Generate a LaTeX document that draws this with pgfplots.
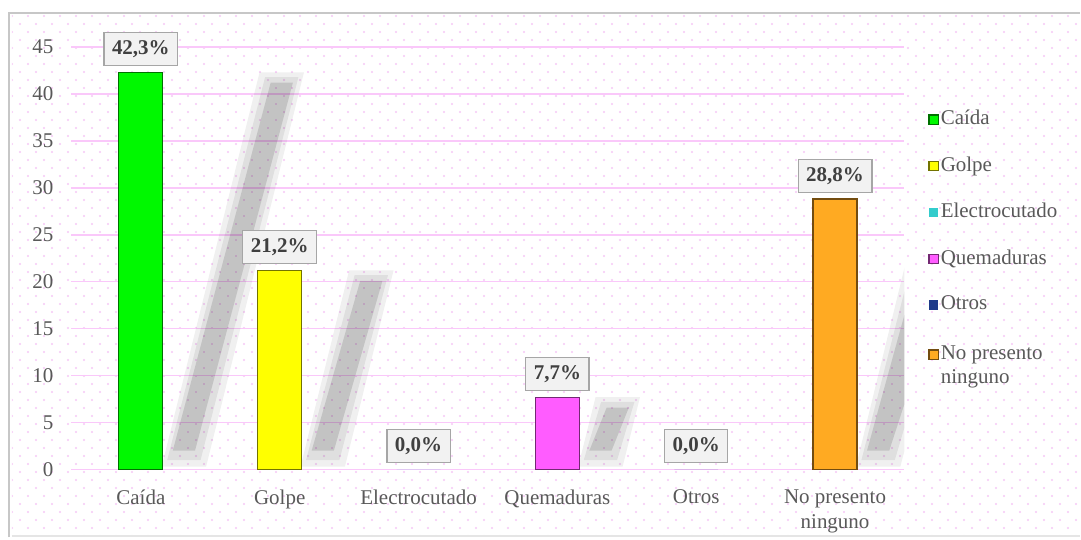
\documentclass[border=0pt]{standalone}
\usepackage{fontspec}
\setmainfont{Liberation Serif}
\usepackage{pgfplots}
\pgfplotsset{compat=1.18}
\usetikzlibrary{patterns.meta}
\definecolor{txt}{HTML}{595959}
\definecolor{lbltxt}{HTML}{404040}
\definecolor{gridpink}{RGB}{250,200,250}
\definecolor{dotpink}{RGB}{246,200,246}
\definecolor{cGreen}{HTML}{00F800}
\definecolor{cYellow}{HTML}{FFFF00}
\definecolor{cCyan}{HTML}{33CCCC}
\definecolor{cMagenta}{HTML}{FF5CFF}
\definecolor{cNavy}{HTML}{1F3A8A}
\definecolor{cOrange}{HTML}{FFAA22}
\tikzdeclarepattern{
  name=pinkdots, type=uncolored, tile size={(8pt,8pt)},
  bounding box={(0pt,0pt) and (8pt,8pt)},
  code={\fill (2pt,2pt) circle (0.55pt); \fill (6pt,6pt) circle (0.55pt);}
}
\newcommand{\fs}{\fontsize{10.5}{12.6}\selectfont}
\pgfplotsset{
  mybar/.style={ybar, bar width=22pt, bar shift=0pt, fill=#1, draw=#1!45!black, line width=0.6pt,
    nodes near coords={\pgfmathprintnumber[fixed,fixed zerofill,precision=1,use comma]{\pgfplotspointmeta}\%},
    every node near coord/.append style={font=\fs\bfseries, text=lbltxt, draw=black!35, fill=black!5, line width=0.6pt, inner xsep=4pt, inner ysep=4pt, anchor=south, yshift=3pt}},
  zerobar/.style={mybar=#1, draw=none},
  shadow/.style={forget plot, draw=none, fill=black, fill opacity=#1},
}
\begin{document}
\begin{tikzpicture}[x=1pt,y=1pt]
\path (0,0) rectangle (540.5,269);
\fill[white] (4,0) rectangle (540.5,262.5);
\fill[pattern=pinkdots, pattern color=dotpink] (6,1) rectangle (540.5,261.5);
\draw[black!22, line width=1.2pt] (4.5,0) -- (4.5,262.5) -- (540.5,262.5);
\draw[black!10, line width=1pt] (6,0.5) -- (540.5,0.5);
\begin{axis}[
  at={(35.75pt,34pt)}, anchor=south west,
  scale only axis, width=417pt, height=211.5pt,
  xmin=-0.5, xmax=5.5, ymin=0, ymax=45,
  clip=false,
  axis line style={draw=none},
  tick style={draw=none},
  ytick={0,5,...,45},
  ymajorgrids,
  grid style={color=gridpink, line width=0.8pt},
  xtick={0,1,2,3,4,5},
  xticklabels={Caída,Golpe,Electrocutado,Quemaduras,Otros,{No presento\\ninguno}},
  xticklabel style={font=\fs, text=txt, align=center, yshift=-6.5pt},
  yticklabel style={font=\fs, text=txt, xshift=-5.5pt},
  /pgf/number format/assume math mode=true,
  legend style={at={(1.021,0.866)}, anchor=north west, draw=none, fill=none,
    font=\fs, text=txt, row sep=12.5pt, nodes={inner sep=1pt}, cells={anchor=base west}},
  legend image code/.code={\fill[#1] (0pt,0.2pt) rectangle (4.6pt,4.8pt);},
]
% shadows: nested layers for a soft edge
\addplot[shadow=0.06] coordinates {(0.15,0.3) (0.47,0.3) (1.175,42.3) (0.855,42.3)} -- cycle;
\addplot[shadow=0.07] coordinates {(0.19,1.0) (0.43,1.0) (1.135,41.8) (0.895,41.8)} -- cycle;
\addplot[shadow=0.12] coordinates {(0.23,2.0) (0.39,2.0) (1.095,41.2) (0.935,41.2)} -- cycle;
\addplot[shadow=0.06] coordinates {(1.15,0.3) (1.47,0.3) (1.82,21.2) (1.50,21.2)} -- cycle;
\addplot[shadow=0.07] coordinates {(1.19,1.0) (1.43,1.0) (1.78,20.7) (1.54,20.7)} -- cycle;
\addplot[shadow=0.12] coordinates {(1.23,2.0) (1.39,2.0) (1.74,20.1) (1.58,20.1)} -- cycle;
\addplot[shadow=0.06] coordinates {(3.15,0.3) (3.47,0.3) (3.595,7.7) (3.275,7.7)} -- cycle;
\addplot[shadow=0.07] coordinates {(3.19,1.0) (3.43,1.0) (3.555,7.2) (3.315,7.2)} -- cycle;
\addplot[shadow=0.12] coordinates {(3.23,2.0) (3.39,2.0) (3.515,6.6) (3.355,6.6)} -- cycle;
\addplot[shadow=0.06] coordinates {(5.15,0.3) (5.47,0.3) (5.5,2.0) (5.5,21.5)} -- cycle;
\addplot[shadow=0.07] coordinates {(5.19,1.0) (5.43,1.0) (5.5,4.5) (5.5,19.0)} -- cycle;
\addplot[shadow=0.12] coordinates {(5.23,2.0) (5.39,2.0) (5.5,7.0) (5.5,16.5)} -- cycle;
% bars
\addplot[mybar=cGreen] coordinates {(0,42.3)};
\addlegendentry{Caída}
\addplot[mybar=cYellow] coordinates {(1,21.2)};
\addlegendentry{Golpe}
\addplot[zerobar=cCyan] coordinates {(2,0)};
\addlegendentry{Electrocutado}
\addplot[mybar=cMagenta] coordinates {(3,7.7)};
\addlegendentry{Quemaduras}
\addplot[zerobar=cNavy] coordinates {(4,0)};
\addlegendentry{Otros}
\addplot[mybar=cOrange] coordinates {(5,28.8)};
\addlegendentry{\begin{tabular}[t]{@{}l@{}}No presento\\[-0.5pt]ninguno\end{tabular}}
\end{axis}
\end{tikzpicture}
\end{document}
